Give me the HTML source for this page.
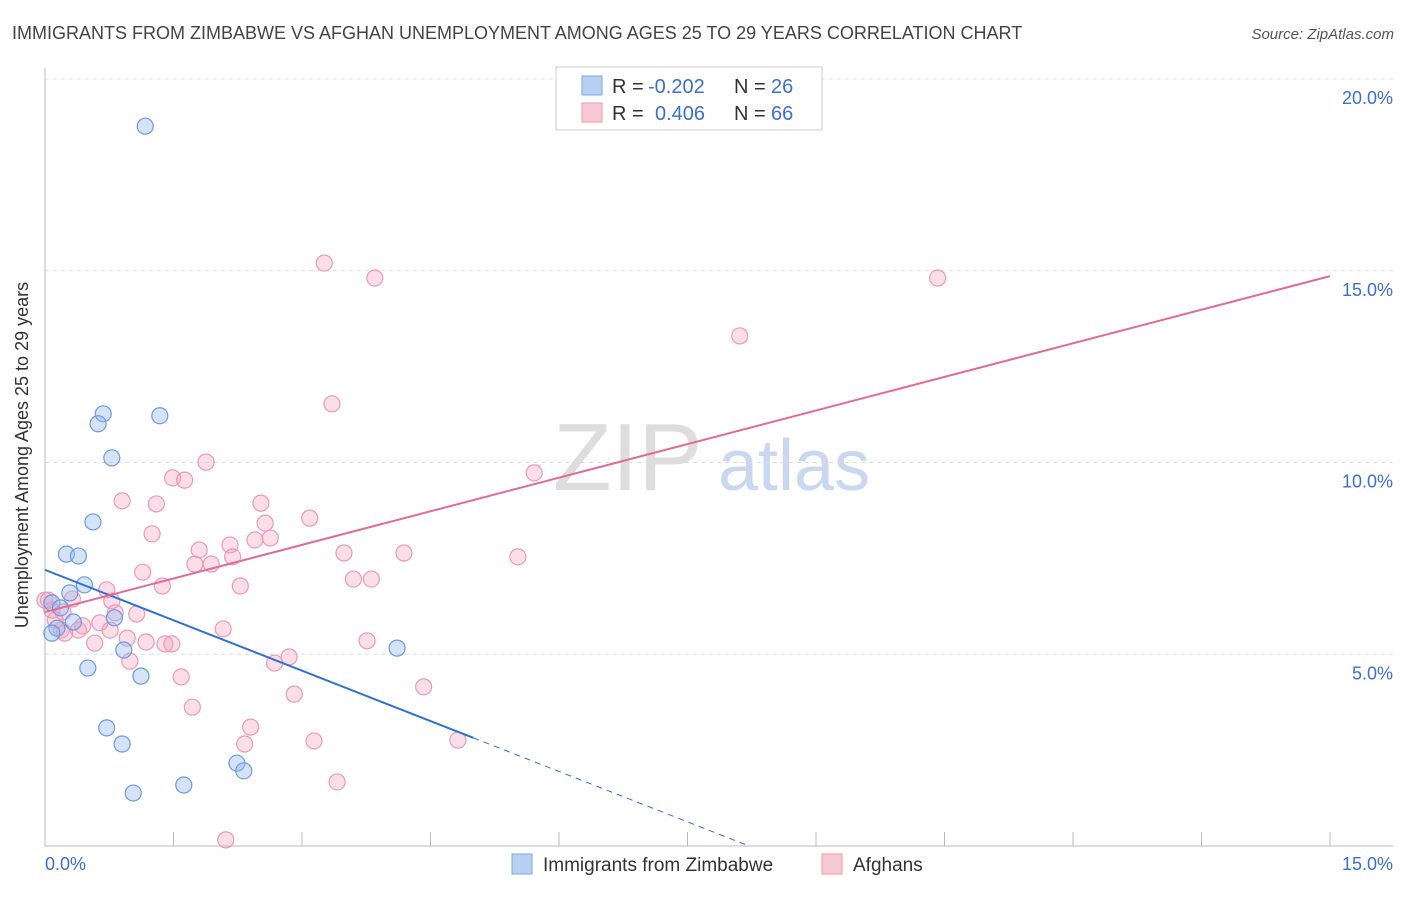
<!DOCTYPE html>
<html><head><meta charset="utf-8"><style>
body{margin:0;background:#fff;font-family:"Liberation Sans",sans-serif}
svg text{font-family:"Liberation Sans",sans-serif}
</style></head><body>
<svg id="chart" width="1406" height="892">
<text x="12" y="39" font-size="18" fill="#444">IMMIGRANTS FROM ZIMBABWE VS AFGHAN UNEMPLOYMENT AMONG AGES 25 TO 29 YEARS CORRELATION CHART</text>
<text x="1394" y="39" font-size="15" fill="#555" font-style="italic" text-anchor="end">Source: ZipAtlas.com</text>
<g><text x="553" y="490" font-size="96" font-family="Liberation Serif" fill="#ddd">ZIP</text><text x="718" y="490" font-size="72" fill="#c9d8f0">atlas</text></g>
<g id="grid"></g>
<g id="axes"></g>
<g id="pts"></g>
<g id="lines"></g>
<text x="28" y="455" font-size="18" fill="#333" text-anchor="middle" transform="rotate(-90 28 455)">Unemployment Among Ages 25 to 29 years</text>
<text x="45" y="870" font-size="18" fill="#3b6fd4">0.0%</text>
<text x="1393" y="870" font-size="18" fill="#3b6fd4" text-anchor="end">15.0%</text>
<g>
<rect x="556" y="67" width="266" height="63" fill="#fff" stroke="#ccc"/>
<rect x="582" y="76" width="20" height="19" fill="#b8d0f4" stroke="#7fa6e0"/>
<rect x="582" y="103" width="20" height="19" fill="#f9c8d6" stroke="#eb9ab4"/>
<text x="612" y="93" font-size="20" fill="#333">R =</text>
<text x="648" y="93" font-size="20" fill="#3b6fd4">-0.202</text>
<text x="734" y="93" font-size="20" fill="#333">N =</text>
<text x="771" y="93" font-size="20" fill="#3b6fd4">26</text>
<text x="612" y="120" font-size="20" fill="#333">R =</text>
<text x="655" y="120" font-size="20" fill="#3b6fd4">0.406</text>
<text x="734" y="120" font-size="20" fill="#333">N =</text>
<text x="771" y="120" font-size="20" fill="#3b6fd4">66</text>
</g>
<g>
<rect x="512" y="854" width="20" height="20" fill="#b8d0f4" stroke="#7fa6e0"/>
<text x="543" y="871" font-size="19" fill="#333">Immigrants from Zimbabwe</text>
<rect x="822" y="854" width="20" height="20" fill="#f9c8d6" stroke="#eb9ab4"/>
<text x="853" y="871" font-size="19" fill="#333">Afghans</text>
</g>
</svg>
<script>
const yTicks=[5,10,15,20];
const yTickLabels=["5.0%","10.0%","15.0%","20.0%"];
const xTicks=[0,1.5,3,4.5,6,7.5,9,10.5,12,13.5,15];
const blueX=[1.17,0.68,0.62,1.34,0.78,0.56,0.25,0.39,0.46,0.29,0.08,0.18,0.81,0.33,0.14,0.08,0.92,0.50,1.12,4.11,0.72,0.90,2.24,2.32,1.62,1.03];
const blueY=[18.77,11.27,11.01,11.22,10.12,8.45,7.61,7.56,6.81,6.60,6.34,6.21,5.95,5.84,5.68,5.55,5.11,4.64,4.43,5.16,3.08,2.66,2.16,1.96,1.59,1.38];
const pinkX=[3.26,3.85,10.42,8.11,3.35,1.88,5.71,1.49,1.63,0.90,1.30,2.52,3.09,2.57,1.25,1.80,2.16,2.63,2.45,3.49,4.19,5.52,2.19,1.75,1.94,1.14,2.28,3.60,3.81,1.37,0.72,0.32,0.78,0.00,0.08,0.21,0.64,0.44,0.76,1.07,0.82,0.39,0.58,0.96,1.18,1.40,1.48,2.08,3.76,2.85,2.68,0.99,1.59,2.91,4.42,1.72,2.40,2.33,3.14,4.82,3.41,2.11,0.19,0.23,0.04,0.12];
const pinkY=[15.20,14.81,14.81,13.30,11.53,10.01,9.73,9.60,9.54,9.00,8.92,8.94,8.55,8.42,8.14,7.72,7.85,8.03,7.98,7.64,7.64,7.54,7.54,7.35,7.35,7.14,6.78,6.96,6.96,6.78,6.68,6.44,6.39,6.41,6.15,6.10,5.82,5.74,5.63,6.05,6.08,5.63,5.29,5.42,5.32,5.27,5.27,5.66,5.35,4.93,4.77,4.82,4.41,3.96,4.15,3.62,3.10,2.66,2.74,2.76,1.67,0.16,5.63,5.55,6.41,5.89];
const blueTrend=[7.20,-0.876];
const pinkTrend=[6.10,0.584];
const blueSolidEnd=5.0;
const NS="http://www.w3.org/2000/svg";
const sx=v=>45+v/15*1285;
const sy=v=>846-v*38.35;
function mk(tag,attrs,parent){const e=document.createElementNS(NS,tag);for(const k in attrs)e.setAttribute(k,attrs[k]);document.getElementById(parent).appendChild(e);return e;}
yTicks.forEach((t,i)=>{
 const g=mk('line',{x1:45,x2:1393,y1:sy(t),y2:sy(t),stroke:'#ddd','stroke-dasharray':'4 4'},'grid');
 
 
 const l=mk('text',{x:1393,y:sy(t)+25,'font-size':18,fill:'#3b6fd4','text-anchor':'end'},'grid');
 l.textContent=yTickLabels[i];
 
 
});
const ax=mk('line',{x1:45,x2:45,y1:68,y2:846,stroke:'#bbb'},'axes');


const bx=mk('line',{x1:45,x2:1393,y1:846,y2:846,stroke:'#bbb'},'axes');


xTicks.forEach(t=>{
 const k=mk('line',{x1:sx(t),x2:sx(t),y1:832,y2:846,stroke:'#bbb'},'axes');
 
 
});
pinkX.forEach((x,i)=>{
 const c=mk('circle',{cx:sx(x),cy:sy(pinkY[i]),r:8,fill:'rgba(244,160,188,0.35)',stroke:'#eb9ab4','stroke-width':1.2},'pts');
 
 
});
blueX.forEach((x,i)=>{
 const c=mk('circle',{cx:sx(x),cy:sy(blueY[i]),r:8,fill:'rgba(150,185,240,0.4)',stroke:'#6d9ae0','stroke-width':1.2},'pts');
 
 
});
const bz=-blueTrend[0]/blueTrend[1];
const b1=mk('line',{x1:sx(0),y1:sy(blueTrend[0]),x2:sx(blueSolidEnd),y2:sy(blueTrend[0]+blueTrend[1]*blueSolidEnd),stroke:'#2e6fd8','stroke-width':2},'lines');


const b2=mk('line',{x1:sx(blueSolidEnd),y1:sy(blueTrend[0]+blueTrend[1]*blueSolidEnd),x2:sx(bz),y2:sy(0),stroke:'#2e6fd8','stroke-width':1,'stroke-dasharray':'6 5'},'lines');


const p1=mk('line',{x1:sx(0),y1:sy(pinkTrend[0]),x2:sx(15),y2:sy(pinkTrend[0]+pinkTrend[1]*15),stroke:'#e46a96','stroke-width':2},'lines');


</script>
</body></html>
